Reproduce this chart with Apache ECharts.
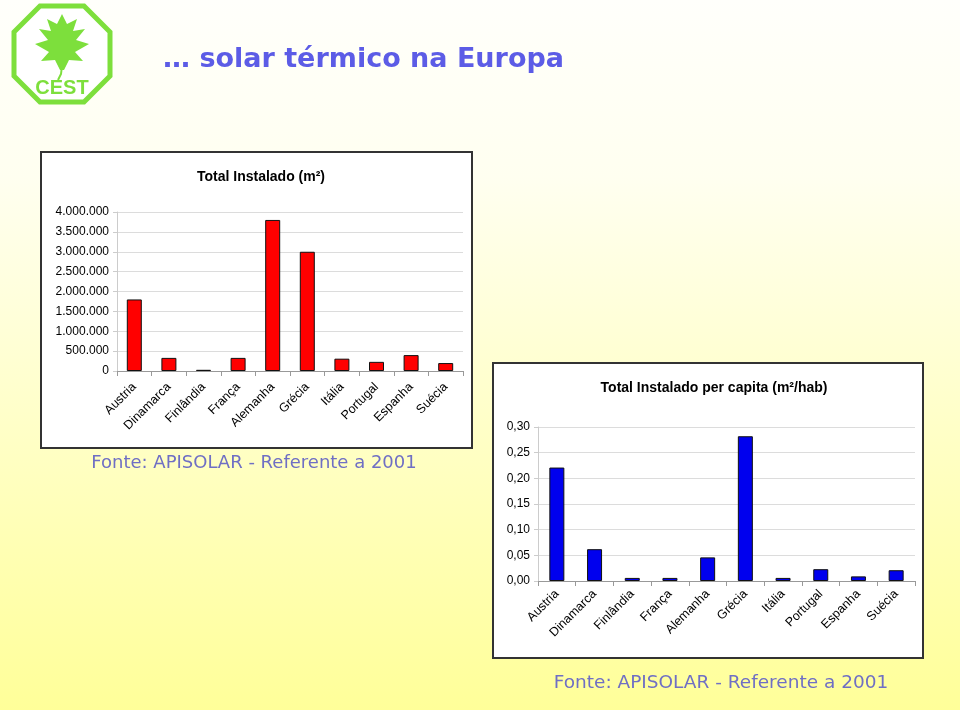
<!DOCTYPE html>
<html>
<head>
<meta charset="utf-8">
<script src="https://cdn.jsdelivr.net/npm/echarts@6/dist/echarts.min.js"></script>
<style>html,body{margin:0;padding:0;}#c{width:960px;height:710px;}</style>
</head>
<body>
<div id="c"></div>
<script>
var countries = ['Austria','Dinamarca','Finlândia','França','Alemanha','Grécia','Itália','Portugal','Espanha','Suécia'];
var totalInstalado = [1800000, 330000, 30000, 330000, 3800000, 3000000, 310000, 230000, 400000, 200000];
var perCapita = [0.221, 0.062, 0.006, 0.006, 0.046, 0.282, 0.006, 0.023, 0.009, 0.021];
var pageTitle = '… solar térmico na Europa';
var title1 = 'Total Instalado (m²)';
var title2 = 'Total Instalado per capita (m²/hab)';
var fonte = 'Fonte: APISOLAR - Referente a 2001';

var chart = echarts.init(document.getElementById('c'));
function dots(v){ return String(v).replace(/\B(?=(\d{3})+(?!\d))/g, '.'); }
var axisFont = {fontFamily:'Liberation Sans, Arial', fontSize:12, color:'#000'};
function xAxis(gi, margin){
  return {type:'category', gridIndex:gi, data:countries, boundaryGap:true,
    axisLine:{lineStyle:{color:'#999', width:1}},
    axisTick:{show:true, alignWithLabel:false, length:5, lineStyle:{color:'#999'}},
    axisLabel:Object.assign({rotate:45, margin:margin, interval:0}, axisFont, {fontSize:12.5})};
}
var leaf = [[62,14],[67,24],[77,19],[73,31],[85,29],[76,40],[89,44],[75,52],[83,61],[69,60],[64,70],[60,70],[55,60],[41,61],[49,52],[35,44],[48,40],[39,29],[51,31],[47,19],[57,24]];
chart.setOption({
  animation:false,
  backgroundColor:{type:'linear', x:0, y:0, x2:0, y2:1, colorStops:[{offset:0,color:'#fffffb'},{offset:0.25,color:'#fffff0'},{offset:1,color:'#ffff99'}]},
  graphic:[
    {type:'rect', z:-10, shape:{x:41, y:152, width:431, height:296}, style:{fill:'#fff', stroke:'#333', lineWidth:2}},
    {type:'rect', z:-10, shape:{x:493, y:363, width:430, height:295}, style:{fill:'#fff', stroke:'#333', lineWidth:2}},
    {type:'polygon', shape:{points:[[40,6],[84,6],[110,32],[110,76],[84,102],[40,102],[14,76],[14,32]]}, style:{fill:'#fff', stroke:'#7ddf3c', lineWidth:5}},
    {type:'polygon', shape:{points:leaf}, style:{fill:'#7ddf3c'}},
    {type:'polyline', shape:{points:[[62,66],[61,74],[58,80]]}, style:{stroke:'#7ddf3c', lineWidth:2, fill:null}},
    {type:'text', x:62, y:88, style:{text:'CEST', fill:'#7ddf3c', font:'bold 20px Liberation Sans Narrow, Liberation Sans, Arial', align:'center', verticalAlign:'middle'}},
    {type:'text', x:163, y:60, style:{text:pageTitle, fill:'#5c5ce6', font:'bold 27px DejaVu Sans', align:'left', verticalAlign:'middle'}},
    {type:'text', x:254, y:463, style:{text:fonte, fill:'#6f6fc4', font:'18px DejaVu Sans', align:'center', verticalAlign:'middle'}},
    {type:'text', x:721, y:683, style:{text:fonte, fill:'#6f6fc4', font:'18.5px DejaVu Sans', align:'center', verticalAlign:'middle'}}
  ],
  title:[
    {text:title1, left:256, top:165, textAlign:'center', textStyle:{fontFamily:'Liberation Sans, Arial', fontSize:14, fontWeight:'bold', color:'#000'}},
    {text:title2, left:709, top:376, textAlign:'center', textStyle:{fontFamily:'Liberation Sans, Arial', fontSize:14, fontWeight:'bold', color:'#000'}}
  ],
  grid:[
    {left:117, right:497, top:212, bottom:339},
    {left:538, right:45, top:427, bottom:129}
  ],
  xAxis:[xAxis(0, 14), xAxis(1, 11)],
  yAxis:[
    {type:'value', gridIndex:0, min:0, max:4000000, interval:500000,
      axisLine:{show:true, lineStyle:{color:'#ccc'}}, axisTick:{show:true, length:4, lineStyle:{color:'#ccc'}},
      splitLine:{lineStyle:{color:'#dcdcdc'}},
      axisLabel:Object.assign({margin:8, formatter:function(v){return dots(v);}}, axisFont)},
    {type:'value', gridIndex:1, min:0, max:0.3, interval:0.05,
      axisLine:{show:true, lineStyle:{color:'#ccc'}}, axisTick:{show:true, length:4, lineStyle:{color:'#ccc'}},
      splitLine:{lineStyle:{color:'#dcdcdc'}},
      axisLabel:Object.assign({margin:8, formatter:function(v){return v.toFixed(2).replace('.', ',');}}, axisFont)}
  ],
  series:[
    {type:'bar', xAxisIndex:0, yAxisIndex:0, data:totalInstalado, barWidth:15,
      itemStyle:{color:'#ff0000', borderColor:'#111', borderWidth:1}},
    {type:'bar', xAxisIndex:1, yAxisIndex:1, data:perCapita, barWidth:15,
      itemStyle:{color:'#0000ee', borderColor:'#111', borderWidth:1}}
  ]
});
</script>
</body>
</html>
